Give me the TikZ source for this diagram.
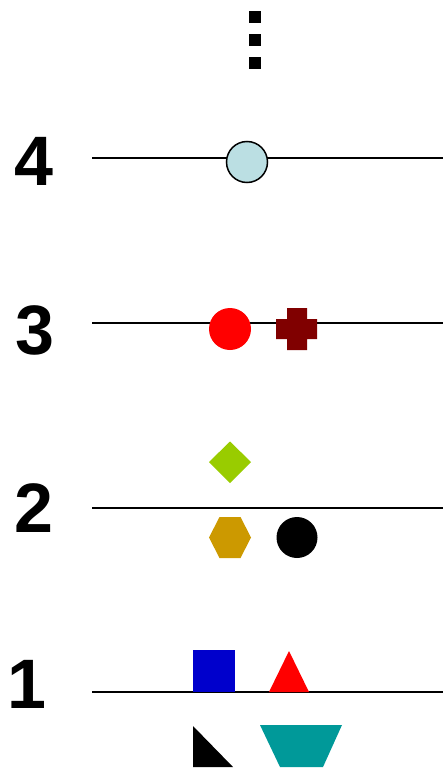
\documentclass[tikz,border=0pt]{standalone}
\usepackage{fontspec}
\setmainfont{Liberation Sans}
\usepackage{xcolor}
\usetikzlibrary{positioning}

\definecolor{iceblue}{HTML}{BBDFE3}
\definecolor{maroon}{HTML}{800000}
\definecolor{lime}{HTML}{99CC00}
\definecolor{ochre}{HTML}{CC9900}
\definecolor{royal}{HTML}{0000CC}
\definecolor{teal}{HTML}{009999}

\begin{document}
\begin{tikzpicture}[
  x=1pt, y=-1pt,
  level/.style={font=\fontsize{70}{70}\selectfont\bfseries, inner sep=0pt, anchor=base},
  axis/.style={line width=2pt, black},
  marker/.style={draw=none, fill=#1},
  marker/.default=black,
]
  \useasboundingbox (0,0) rectangle (443,768);

  % ── continuation dots ──
  \foreach \y in {17,40,63}
    \fill (249,\y-6) rectangle (261,\y+6);

  % ── Level 4 ──
  \node[level] (lv4) at (33.5,185) {4};
  \coordinate (a4) at (92,158);
  \coordinate (b4) at (443,158);
  \draw[axis] (a4) -- (b4);
  \filldraw[fill=iceblue, draw=black, line width=1.5pt] (247,162) circle (20.5pt);

  % ── Level 3 ──
  \node[level] (lv3) at (34.5,354) {3};
  \coordinate (a3) at (92,323);
  \coordinate (b3) at (443,323);
  \draw[axis] (a3) -- (b3);
  \fill[marker=red] (230,329) circle (21pt);
  \fill[marker=maroon] (287,308) rectangle (307,350) (276,319) rectangle (317,339);

  % ── Level 2 ──
  \node[level] (lv2) at (34,532) {2};
  \coordinate (a2) at (92,508);
  \coordinate (b2) at (443,508);
  \draw[axis] (a2) -- (b2);
  \fill[marker=lime] (230,441.5) -- (251,462) -- (230,483) -- (209,462) -- cycle;
  \fill[marker=ochre] (209,537.5) -- (219.5,517) -- (240.5,517) -- (251,537.5)
    -- (240.5,558) -- (219.5,558) -- cycle;
  \fill[marker] (297,537.5) circle (20.5pt);

  % ── Level 1 ──
  \node[level] (lv1) at (27,708) {1};
  \coordinate (a1) at (92,692);
  \coordinate (b1) at (443,692);
  \draw[axis] (a1) -- (b1);
  \fill[marker=royal] (193,650) rectangle (235,692);
  \fill[marker=red] (269,692) -- (289,651) -- (309,692) -- cycle;
  \fill[marker] (193,726) -- (193,767) -- (233,767) -- cycle;
  \fill[marker=teal] (260,725) -- (342,725) -- (323,767) -- (280,767) -- cycle;
\end{tikzpicture}
\end{document}
